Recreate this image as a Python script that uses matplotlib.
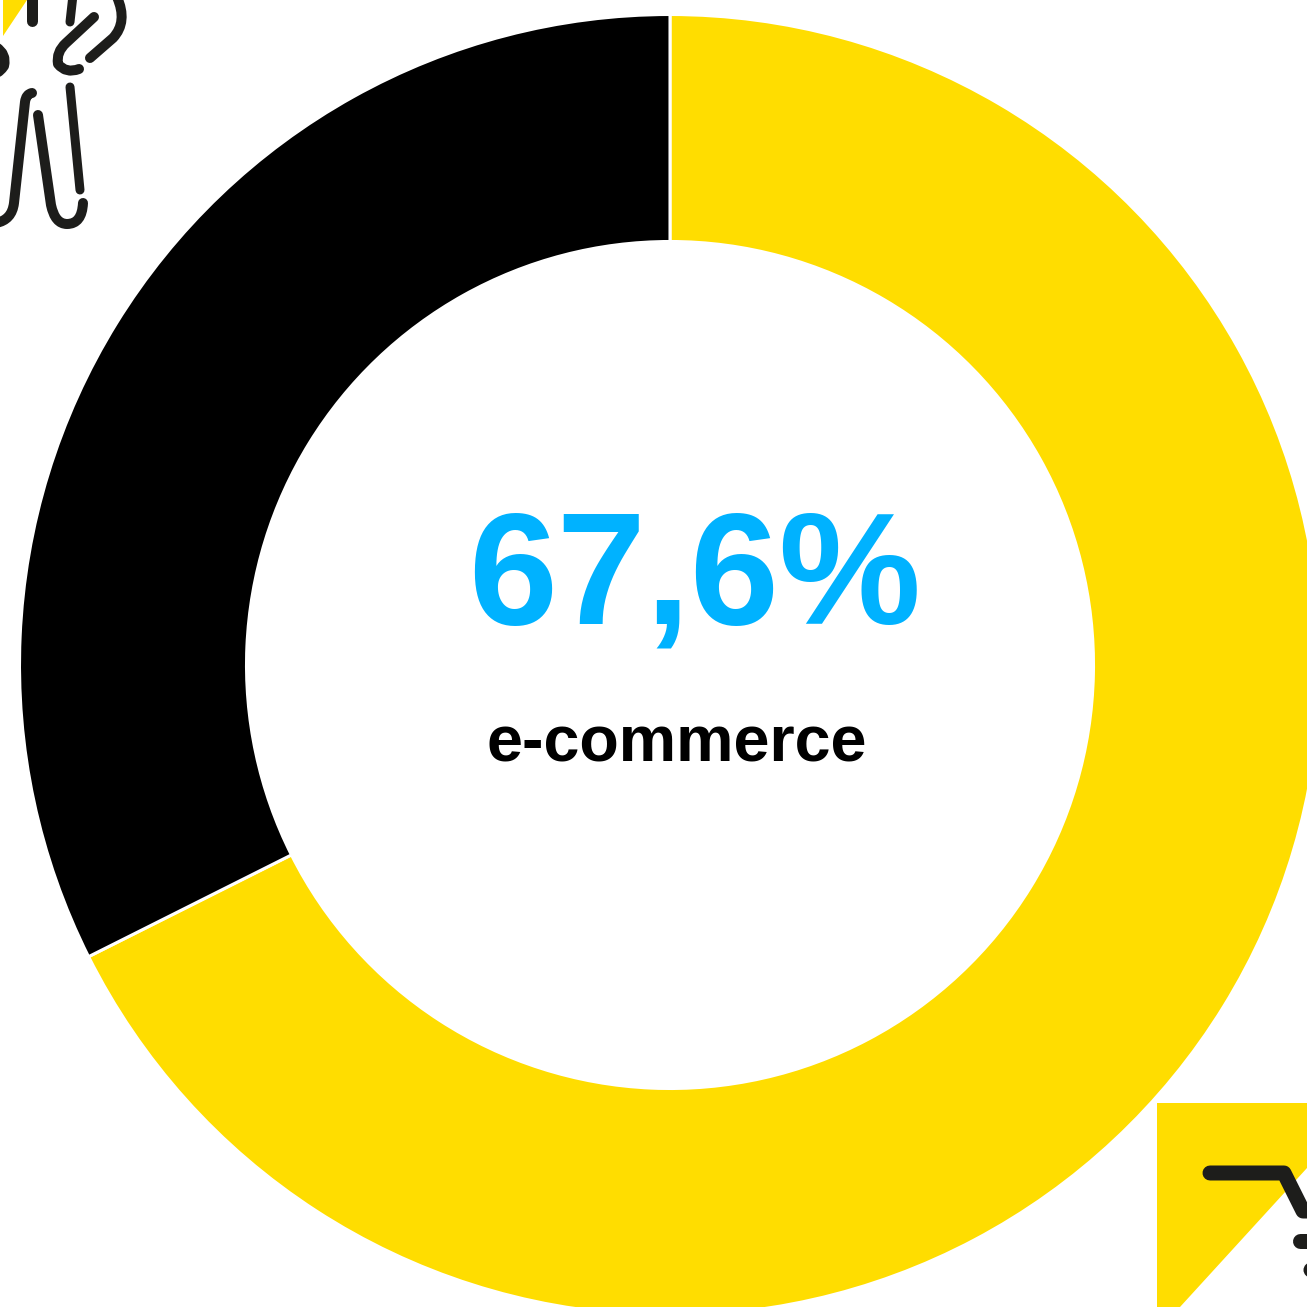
import matplotlib
matplotlib.use("Agg")
import matplotlib.pyplot as plt
from matplotlib.patches import Circle, PathPatch, Polygon, Rectangle
from matplotlib.path import Path

SIZE = 1307
DPI = 100

categories = ["e-commerce", "other"]
shares = [67.6, 32.4]
slice_colors = ["#FFDD00", "#000000"]
headline = "67,6%"
caption = "e-commerce"

INK = "#1D1D1B"
YELLOW = "#FFDD00"
M, L, Q = Path.MOVETO, Path.LINETO, Path.CURVE3

fig = plt.figure(figsize=(SIZE / DPI, SIZE / DPI), dpi=DPI, facecolor="white")

# Ring chart, laid out in pixel units with the origin at the lower left
ax = fig.add_axes([0, 0, 1, 1])
ax.pie(
    shares,
    colors=slice_colors,
    startangle=90,
    counterclock=False,
    center=(670, SIZE - 665),
    radius=650.5,
    wedgeprops=dict(width=227, edgecolor="white", linewidth=2.2),
)
ax.set_xlim(0, SIZE)
ax.set_ylim(0, SIZE)
ax.set_aspect("equal")
ax.axis("off")

ax.text(695, SIZE - 582, headline, color="#00B2FF", fontsize=115, fontweight="bold",
        family="Liberation Sans", ha="center", va="center")
ax.text(677, SIZE - 744, caption, color="black", fontsize=46.5, fontweight="bold",
        family="Liberation Sans", ha="center", va="center")

# Decorative pictograms in the corners, y running downward
deco = fig.add_axes([0, 0, 1, 1], facecolor="none")
deco.set_xlim(0, SIZE)
deco.set_ylim(SIZE, 0)
deco.axis("off")


def stroke(points, codes=None, width=10.0):
    if codes is None:
        codes = [M] + [L] * (len(points) - 1)
    deco.add_patch(PathPatch(Path(points, codes), fill=False, edgecolor=INK,
                             linewidth=width * 72 / DPI, capstyle="round",
                             joinstyle="round"))


# Figure at the top left
deco.add_patch(Polygon([(3, 0), (3, 36), (27, 0)], closed=True, facecolor=YELLOW, edgecolor="none"))
stroke([(32, -5), (32, 21)], width=11)
stroke([(73, -5), (70, 22)], width=9)
stroke([(94, 17), (66, 43), (56, 52), (58, 64), (66, 74), (79, 69)],
       [M, L, Q, Q, Q, Q])
stroke([(90, 58), (113, 38), (128, 22), (117, -3)], [M, L, Q, Q], width=10)
stroke([(-4, 47), (7, 54), (4, 66), (0, 72), (-4, 73)], [M, Q, Q, Q, Q])
stroke([(32, 93), (26, 94), (25, 102), (14, 203), (12, 220), (-4, 223)],
       [M, Q, Q, L, Q, Q])
stroke([(38, 115), (51, 205), (55, 224), (67, 224), (82, 224), (83, 203)],
       [M, L, Q, Q, Q, Q])
stroke([(70, 87), (80, 190)], width=9)

# Shopping cart tile at the bottom right
deco.add_patch(Rectangle((1157, 1103), 150, 204, facecolor=YELLOW, edgecolor="none"))
deco.add_patch(Polygon([(1180, 1307), (1307, 1168), (1307, 1307)], closed=True,
                       facecolor="white", edgecolor="none"))
stroke([(1210, 1173), (1284, 1173), (1303, 1211), (1315, 1211)], width=15)
stroke([(1300, 1241), (1315, 1241)], width=15)
deco.add_patch(Circle((1311, 1270), 7.5, facecolor=INK, edgecolor="none"))

fig.savefig("out.png", dpi=DPI, facecolor="white")
